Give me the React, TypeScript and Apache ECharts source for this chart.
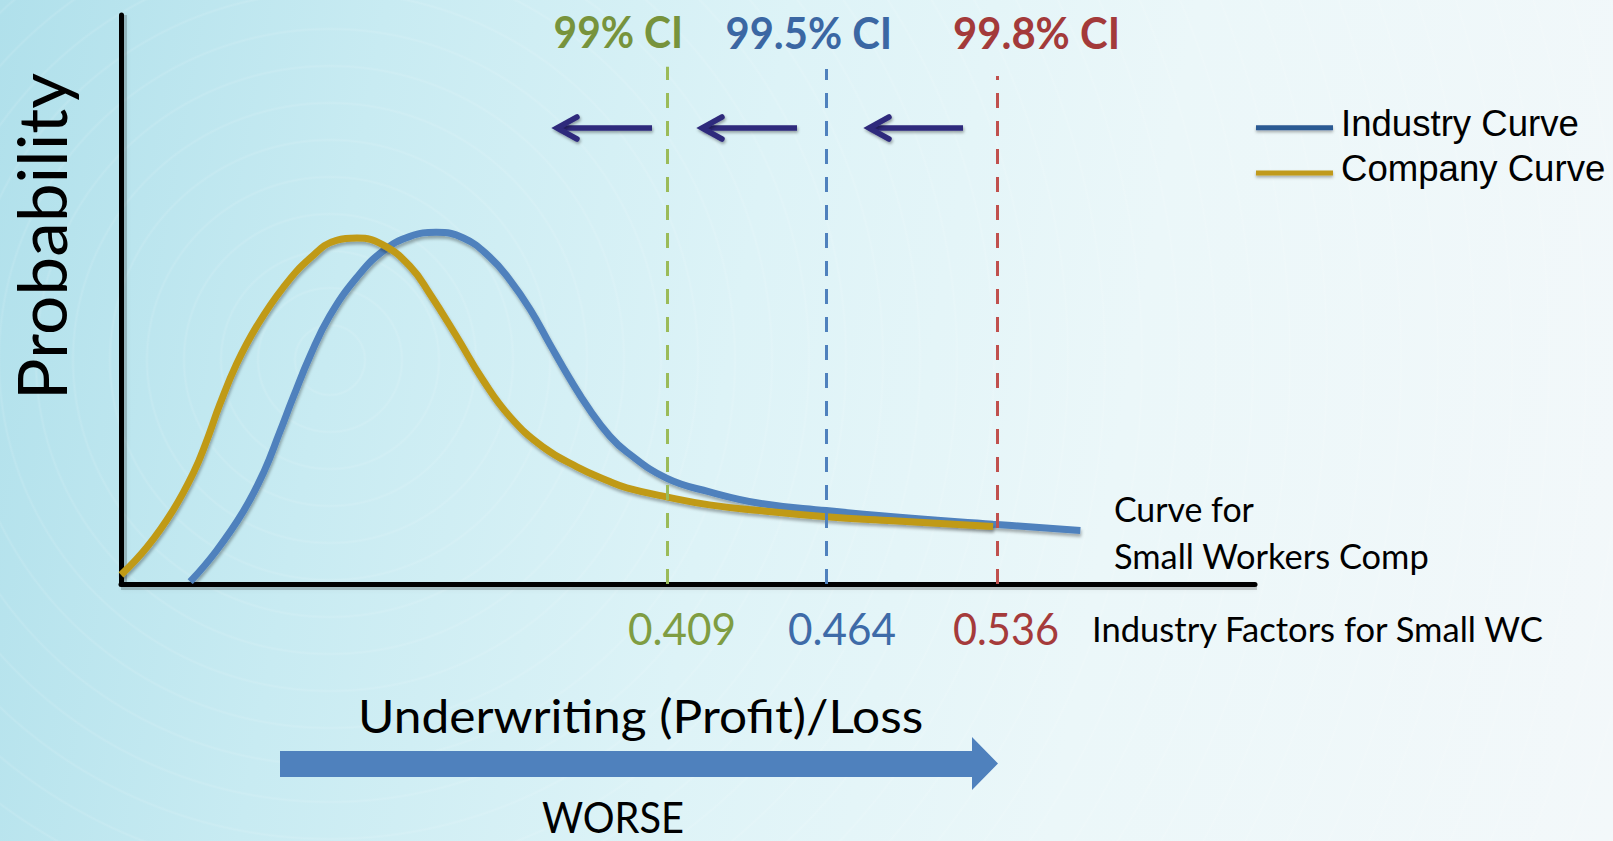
import React, { useEffect, useRef } from 'react';
import * as echarts from 'echarts';

// ---------- data ----------
const seriesNames = ['Industry Curve', 'Company Curve'];

// abstract loss axis (0..100) and probability axis (0..100)
const industryX = [6.1, 8.4, 10.8, 12.6, 14.0, 15.2, 16.7, 18.4, 20.8, 23.1, 25.5, 27.8, 30.2, 32.5, 34.3, 36.1, 37.8, 39.6, 41.4, 43.1, 44.6, 48.1, 51.9, 56.3, 62.2, 68.1, 76.9, 84.6];
const industryY = [0.4, 5.8, 12.8, 19.7, 26.7, 32.9, 40.2, 47.1, 53.9, 58.5, 61.1, 61.8, 60.8, 57.5, 53.4, 48.2, 42.2, 36.0, 30.4, 26.0, 23.2, 18.6, 16.2, 14.2, 12.9, 11.8, 10.5, 9.4];

const companyX = [0, 2.3, 4.6, 6.4, 7.6, 8.7, 10.2, 12.0, 14.3, 16.7, 19.0, 20.8, 23.1, 25.5, 27.2, 29.6, 31.9, 34.3, 37.2, 40.2, 43.1, 44.6, 48.1, 51.9, 56.3, 62.2, 68.1, 76.9];
const companyY = [1.6, 6.5, 13.0, 19.6, 25.4, 31.5, 38.7, 45.4, 52.1, 57.3, 60.4, 60.8, 59.6, 55.8, 51.1, 43.5, 35.9, 29.4, 24.1, 20.6, 18.0, 16.9, 15.3, 13.9, 12.9, 11.8, 11.1, 10.1];

const ciLevels = ['99% CI', '99.5% CI', '99.8% CI'];
const ciFactors = ['0.409', '0.464', '0.536'];
const ciLossX = [48.2, 62.2, 77.3];

const yAxisTitle = 'Probability';
const xAxisTitle = 'Underwriting (Profit)/Loss';
const directionLabel = 'WORSE';
const curveNote = ['Curve for', 'Small Workers Comp'];
const factorNote = 'Industry Factors for Small WC';

// ---------- styles / layout ----------
const W = 1613;
const H = 841;
const GRID = { left: 121, top: 15, width: 1134, height: 569 };
const curveColors = ['#4F81BD', '#C09A17'];
const legendColors = ['#2C5A93', '#C09A1C'];
const ciLineColors = ['#9BBB59', '#4F81BD', '#C0504D'];
const ciTitleColors = ['#77933C', '#3B67A3', '#A33A3A'];
const ciFactorColors = ['#7F9D42', '#3E6BA8', '#A53B3B'];
const ciTop = [90.9, 90.5, 89.3];
const ciTitleBox = [[553.6, 683], [725.5, 892], [953, 1120]];
const ciFactorBox = [[628, 736], [788, 896], [953, 1059]];
const navy = '#2F2A7C';
// legend bar drawn in the lower part of the icon box so the label sits a little above it
const legendIconPath = 'path://M0,0L0.01,0M0,9L77,9L77,14L0,14Z';

let measureCtx: CanvasRenderingContext2D | null = null;
function measure(text: string, font: string): number {
  if (!measureCtx) measureCtx = document.createElement('canvas').getContext('2d');
  if (!measureCtx) return 0;
  measureCtx.font = font;
  return measureCtx.measureText(text).width;
}

type Ann = { text: string; left: number; right: number; capMid: number; cap: number; color: string; bold?: boolean };

function latoText(a: Ann) {
  const fs = a.cap / 0.7165;
  const weight = a.bold ? 'bold' : 'normal';
  const w = measure(a.text, `${weight} ${fs}px Lato`);
  let sx = w > 0 ? (a.right - a.left) / w : 1;
  sx = Math.max(0.6, Math.min(1.4, sx));
  return {
    type: 'text',
    x: a.left,
    y: a.capMid - 0.029 * fs,
    scaleX: sx,
    silent: true,
    z: 10,
    style: {
      text: a.text,
      fill: a.color,
      fontSize: fs,
      fontFamily: 'Lato',
      fontWeight: weight,
      align: 'left',
      verticalAlign: 'middle',
      textAlign: 'left',
      textVerticalAlign: 'middle',
    },
  };
}

const softShadow = { shadowColor: 'rgba(0,0,0,0.35)', shadowBlur: 3, shadowOffsetX: 1, shadowOffsetY: 2 };

function leftArrow(tip: number, tail: number, y: number) {
  return {
    type: 'group',
    silent: true,
    children: [
      { type: 'rect', shape: { x: tip + 2, y: y - 2.75, width: tail - tip - 2, height: 5.5 }, style: { fill: navy, ...softShadow } },
      {
        type: 'polyline',
        shape: { points: [[tip + 21, y - 11], [tip + 1, y], [tip + 21, y + 11]] },
        style: { stroke: navy, lineWidth: 5.5, fill: null, lineJoin: 'miter', lineCap: 'round', ...softShadow },
      },
    ],
  };
}

function buildGraphic() {
  const els: any[] = [];
  // soft shadows under the axis lines
  els.push({ type: 'rect', silent: true, z: -1, shape: { x: GRID.left + 1, y: GRID.top, width: 5, height: GRID.height + 3 }, style: { fill: 'rgba(0,0,0,0.18)', shadowColor: 'rgba(0,0,0,0.25)', shadowBlur: 4 } });
  els.push({ type: 'rect', silent: true, z: -1, shape: { x: GRID.left, y: GRID.top + GRID.height + 1, width: GRID.width + 2, height: 5 }, style: { fill: 'rgba(0,0,0,0.18)', shadowColor: 'rgba(0,0,0,0.25)', shadowBlur: 4 } });

  // CI titles and factors
  ciLevels.forEach((t, i) => {
    els.push(latoText({ text: t, left: ciTitleBox[i][0], right: ciTitleBox[i][1], capMid: 33, cap: 31, color: ciTitleColors[i], bold: true }));
    els.push(latoText({ text: ciFactors[i], left: ciFactorBox[i][0], right: ciFactorBox[i][1], capMid: 628.5, cap: 32, color: ciFactorColors[i] }));
  });
  // notes
  els.push(latoText({ text: curveNote[0], left: 1114, right: 1254, capMid: 509.5, cap: 25, color: '#000' }));
  els.push(latoText({ text: curveNote[1], left: 1114, right: 1429, capMid: 556, cap: 25, color: '#000' }));
  els.push(latoText({ text: factorNote, left: 1092, right: 1545, capMid: 629, cap: 25.5, color: '#000' }));
  els.push(latoText({ text: xAxisTitle, left: 358, right: 923, capMid: 717, cap: 33, color: '#000' }));
  els.push(latoText({ text: directionLabel, left: 542, right: 684, capMid: 817.5, cap: 31, color: '#000' }));

  // rotated y-axis title
  const pfs = 48 / 0.7165;
  const pw = measure(yAxisTitle, `normal ${pfs}px Lato`);
  els.push({
    type: 'text',
    x: 39.5 + 0.029 * pfs,
    y: 236.5,
    rotation: Math.PI / 2,
    scaleX: pw > 0 ? Math.max(0.6, Math.min(1.4, 327 / pw)) : 1,
    silent: true,
    style: {
      text: yAxisTitle, fill: '#000', fontSize: pfs, fontFamily: 'Lato',
      align: 'center', verticalAlign: 'middle', textAlign: 'center', textVerticalAlign: 'middle',
    },
  });

  // navy arrows pointing left
  els.push(leftArrow(556, 652, 128));
  els.push(leftArrow(701, 797, 128));
  els.push(leftArrow(868, 963, 128));

  // big "worse" arrow
  els.push({
    type: 'polygon',
    silent: true,
    shape: { points: [[280, 751], [972, 751], [972, 737], [998, 763.5], [972, 790], [972, 777], [280, 777]] },
    style: { fill: '#4F81BD' },
  });
  return els;
}

const lineShadow = { shadowColor: 'rgba(0,0,0,0.3)', shadowBlur: 3, shadowOffsetX: 1, shadowOffsetY: 3 };

export default function App() {
  const ref = useRef<HTMLDivElement>(null);
  useEffect(() => {
    document.body.style.margin = '0';
    if (!ref.current) return;
    const chart = echarts.init(ref.current, undefined, { renderer: 'svg', width: W, height: H });
    const axisCommon = {
      type: 'value',
      min: 0,
      max: 100,
      axisLine: { show: true, onZero: true, lineStyle: { color: '#000', width: 5 } },
      axisTick: { show: false },
      axisLabel: { show: false },
      splitLine: { show: false },
    };
    const option: any = {
      animation: false,
      backgroundColor: 'transparent',
      grid: { ...GRID, containLabel: false },
      xAxis: { ...axisCommon },
      yAxis: { ...axisCommon },
      legend: {
        orient: 'vertical',
        left: 1256,
        top: 104.7,
        padding: 0,
        itemGap: 8.3,
        itemWidth: 77,
        itemHeight: 14,
        icon: legendIconPath,
        selectedMode: false,
        itemStyle: { borderWidth: 0, shadowColor: 'rgba(0,0,0,0.3)', shadowBlur: 3, shadowOffsetY: 2 },
        textStyle: { fontFamily: 'Liberation Sans', fontSize: 36.6, lineHeight: 37, color: '#000', padding: [0, 0, 0, 3] },
        data: seriesNames.map((n, i) => ({ name: n, itemStyle: { color: legendColors[i] } })),
      },
      series: [
        {
          name: seriesNames[0],
          type: 'line',
          data: industryX.map((x, i) => [x, industryY[i]]),
          smooth: 0.45,
          symbol: 'none',
          color: curveColors[0],
          lineStyle: { color: curveColors[0], width: 7, ...lineShadow },
          silent: true,
          markLine: {
            silent: true,
            symbol: ['none', 'none'],
            label: { show: false },
            data: ciLossX.map((x, i) => [
              { coord: [x, 0], lineStyle: { color: ciLineColors[i], width: 3, type: [15, 13] } },
              { coord: [x, ciTop[i]] },
            ]),
          },
        },
        {
          name: seriesNames[1],
          type: 'line',
          data: companyX.map((x, i) => [x, companyY[i]]),
          smooth: 0.45,
          symbol: 'none',
          color: curveColors[1],
          lineStyle: { color: curveColors[1], width: 7, ...lineShadow },
          silent: true,
        },
      ],
      graphic: buildGraphic(),
    };
    chart.setOption(option);
    return () => chart.dispose();
  }, []);

  const bg =
    'repeating-radial-gradient(circle at 330px 360px, rgba(255,255,255,0) 0px, rgba(255,255,255,0) 33px, rgba(255,255,255,0.11) 35px, rgba(255,255,255,0) 37px), ' +
    'linear-gradient(100deg, #b0e0eb 0%, #c8ebf2 22%, #ddf3f7 45%, #ebf7f9 68%, #f3f8fa 100%)';

  return <div ref={ref} style={{ width: W, height: H, background: bg }} />;
}
